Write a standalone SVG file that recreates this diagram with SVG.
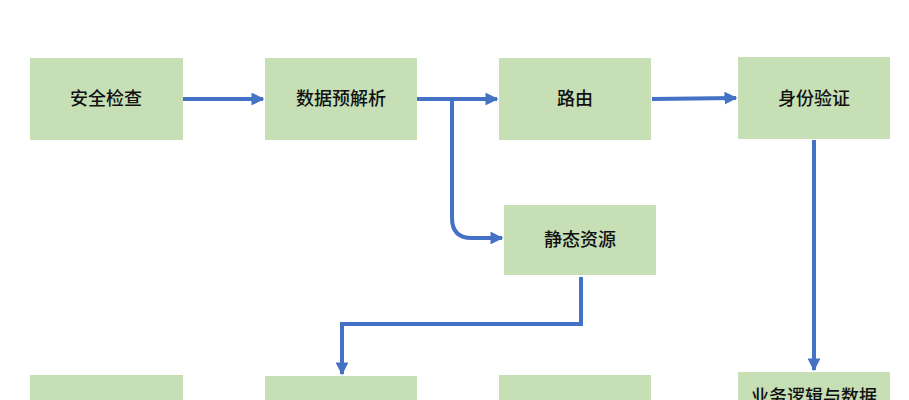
<svg xmlns="http://www.w3.org/2000/svg" width="909" height="400" viewBox="0 0 909 400">
<style>
.n{fill:#c6dfb5}
.t{font-family:"Noto Sans CJK SC",sans-serif;font-size:18px;font-weight:500;fill:#111;text-anchor:middle}
.c{fill:none;stroke:#4472c4;stroke-width:4}
</style>
<defs><marker id="a" viewBox="0 0 10 10" refX="9" refY="5" markerWidth="3.2" markerHeight="3.2" orient="auto" markerUnits="strokeWidth"><path d="M0,0L10,5L0,10z" fill="#4472c4"/></marker></defs>
<rect width="909" height="400" fill="#fff"/>
<g id="n1"><rect class="n" x="30" y="58" width="153" height="82"/><text class="t" x="106" y="105">安全检查</text></g>
<g id="n2"><rect class="n" x="265" y="58" width="152" height="82"/><text class="t" x="341" y="105">数据预解析</text></g>
<g id="n3"><rect class="n" x="499" y="58" width="152" height="82"/><text class="t" x="575" y="105">路由</text></g>
<g id="n4"><rect class="n" x="738" y="57" width="152" height="82"/><text class="t" x="814" y="105">身份验证</text></g>
<g id="n5"><rect class="n" x="504" y="205" width="152" height="70"/><text class="t" x="580" y="246">静态资源</text></g>
<g id="n6"><rect class="n" x="30" y="375" width="153" height="40"/></g>
<g id="n7"><rect class="n" x="265" y="376" width="152" height="40"/></g>
<g id="n8"><rect class="n" x="499" y="375" width="152" height="40"/></g>
<g id="n9"><rect class="n" x="738" y="372" width="152" height="40"/><text class="t" x="814" y="403">业务逻辑与数据</text></g>
<g id="connectors">
<path class="c" d="M183,99H263" marker-end="url(#a)"/>
<path class="c" d="M417,99H497" marker-end="url(#a)"/>
<path class="c" d="M652,99L736,98" marker-end="url(#a)"/>
<path class="c" d="M452,99V218Q452,238 472,238H502" marker-end="url(#a)"/>
<path class="c" d="M581,277V324H342V374" marker-end="url(#a)"/>
<path class="c" d="M814,140V370" marker-end="url(#a)"/>
</g>
</svg>
